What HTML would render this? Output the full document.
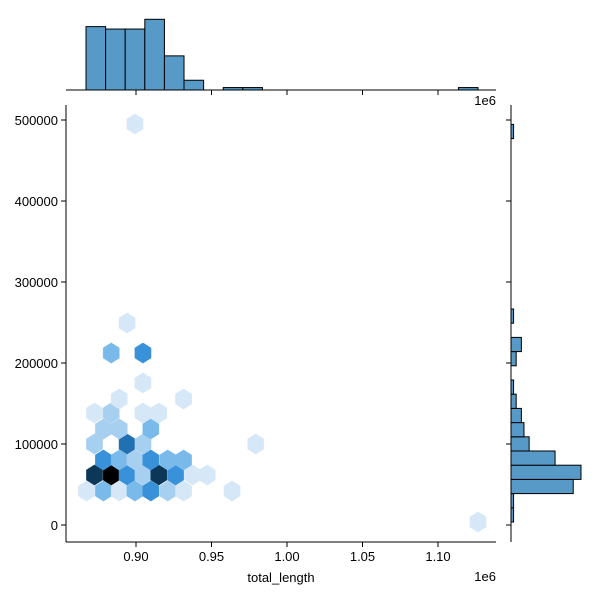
<!DOCTYPE html>
<html><head><meta charset="utf-8"><style>
html,body{margin:0;padding:0;background:#fff;}
svg{display:block;font-family:"Liberation Sans","DejaVu Sans",sans-serif;}
</style></head><body>
<svg id="chart" width="600" height="600" viewBox="0 0 600 600"></svg>
<script>
// ---- data ----
const hexX = [0.8672,0.8784,0.8889,0.8993,0.9098,0.9210,0.9315,0.9636,
  0.8725,0.8836,0.8941,0.9046,0.9151,0.9262,0.9374,0.9472,
  0.8784,0.8889,0.8993,0.9098,0.9210,0.9315,
  0.8725,0.8941,0.9046,0.9793,
  0.8784,0.8889,0.9098,
  0.8725,0.8836,0.9046,0.9151,
  0.8889,0.9315,
  0.9046,
  0.8836,0.9046,
  0.8941,
  0.8993,
  1.1265];
const hexY = [41975,41975,41975,41975,41975,41975,41975,41975,
  61728,61728,61728,61728,61728,61728,61728,61728,
  80247,80247,80247,80247,80247,80247,
  100000,100000,100000,100000,
  118519,118519,118519,
  138272,138272,138272,138272,
  155556,155556,
  175309,
  212346,212346,
  249383,
  495062,
  3704];
const hexCount = [1,3,1,3,4,2,1,1,
  7,9,4,2,7,4,1,1,
  4,3,2,4,3,3,
  2,5,2,1,
  2,2,3,
  1,2,1,1,
  1,1,
  1,
  3,4,
  1,
  1,
  1];
const topHistStart = 0.8669;
const topHistWidth = 0.01298;
const topHistCounts = [26,25,25,29,14,4,0,1,1,0,0,0,0,0,0,0,0,0,0,1];
const rightHistStart = 3704;
const rightHistWidth = 17531;
const rightHistCounts = [1,1,24,27,17,7,5,4,2,1,0,2,4,0,1,0,0,0,0,0,0,0,0,0,0,0,0,1];
const xTicks = [0.90,0.95,1.00,1.05,1.10];
const xTickLabels = ["0.90","0.95","1.00","1.05","1.10"];
const yTicks = [0,100000,200000,300000,400000,500000];
const yTickLabels = ["0","100000","200000","300000","400000","500000"];

// ---- axes ----
const L=66,R=496,T=105,B=542;
const sx = v => 136 + (v-0.9)*1510;
const sy = v => 525 - v*0.00081;
const topBase=90, topScale=70.7/29;
const rightBase=511, rightScale=70/27;
const NS="http://www.w3.org/2000/svg";
const svg=document.getElementById('chart');
function mk(tag,attrs,parent){const e=document.createElementNS(NS,tag);for(const k in attrs)e.setAttribute(k,attrs[k]);(parent||svg).appendChild(e);return e;}

const stops=[[0.11,[214,232,247]],[0.22,[168,208,240]],[0.33,[124,187,234]],[0.44,[58,146,220]],[0.56,[31,111,176]],[0.78,[12,54,86]],[1,[0,0,0]]];
function col(c){const t=c/9;if(t<=stops[0][0])return 'rgb('+stops[0][1]+')';
 for(let i=1;i<stops.length;i++){if(t<=stops[i][0]){const a=stops[i-1],b=stops[i];const f=(t-a[0])/(b[0]-a[0]);
 return 'rgb('+a[1].map((v,k)=>Math.round(v+(b[1][k]-v)*f)).join(',')+')';}}return '#000';}

// hexes
const gHex=mk('g',{});


const hw=8.15, hr=10.2;
for(let i=0;i<hexX.length;i++){
 const cx=sx(hexX[i]), cy=sy(hexY[i]);
 const pts=[[cx,cy-hr],[cx+hw,cy-hr/2],[cx+hw,cy+hr/2],[cx,cy+hr],[cx-hw,cy+hr/2],[cx-hw,cy-hr/2]].map(p=>p[0].toFixed(2)+','+p[1].toFixed(2)).join(' ');
 const p=mk('polygon',{points:pts,fill:col(hexCount[i]),stroke:col(hexCount[i]),'stroke-width':0.3},gHex);
 
 
}

// top histogram
const gTop=mk('g',{});


topHistCounts.forEach((c,i)=>{ if(!c)return;
 const x0=sx(topHistStart+i*topHistWidth), x1=sx(topHistStart+(i+1)*topHistWidth), h=c*topScale;
 const r=mk('rect',{x:x0,y:topBase-h,width:x1-x0,height:h,fill:'#5799c7',stroke:'#000','stroke-width':1},gTop);
 
 
});
const tb=mk('line',{x1:L,x2:R,y1:topBase,y2:topBase,stroke:'#000','stroke-width':1});



// right histogram
const gRight=mk('g',{});


rightHistCounts.forEach((c,i)=>{ if(!c)return;
 const y0=sy(rightHistStart+i*rightHistWidth), y1=sy(rightHistStart+(i+1)*rightHistWidth), w=c*rightScale;
 const r=mk('rect',{x:rightBase,y:y1,width:w,height:y0-y1,fill:'#5799c7',stroke:'#000','stroke-width':1},gRight);
 
 
});
const rb=mk('line',{x1:rightBase,x2:rightBase,y1:T,y2:B,stroke:'#000','stroke-width':1});



// main spines
const ls=mk('line',{x1:L,x2:L,y1:T,y2:B,stroke:'#000','stroke-width':1});


const bs=mk('line',{x1:L,x2:R,y1:B,y2:B,stroke:'#000','stroke-width':1});



// x ticks
xTicks.forEach((v,i)=>{const x=sx(v);
 const t=mk('line',{x1:x,x2:x,y1:B,y2:B+5,stroke:'#000'});
 
 
 const t2=mk('line',{x1:x,x2:x,y1:topBase,y2:topBase+5,stroke:'#000'});
 
 
 const l=mk('text',{x:x,y:B+19,'text-anchor':'middle','font-size':13,fill:'#000'});
 l.textContent=xTickLabels[i];
 
 
});
// y ticks
yTicks.forEach((v,i)=>{const y=sy(v);
 const t=mk('line',{x1:L-5,x2:L,y1:y,y2:y,stroke:'#000'});
 
 
 const t2=mk('line',{x1:rightBase-5,x2:rightBase,y1:y,y2:y,stroke:'#000'});
 
 
 const l=mk('text',{x:L-8,y:y+5,'text-anchor':'end','font-size':13,fill:'#000'});
 l.textContent=yTickLabels[i];
 
 
});
const o1=mk('text',{x:496,y:581,'text-anchor':'end','font-size':13});
o1.textContent='1e6';


const o2=mk('text',{x:496,y:105,'text-anchor':'end','font-size':13});
o2.textContent='1e6';


const xl=mk('text',{x:281,y:582,'text-anchor':'middle','font-size':13});
xl.textContent='total_length';


</script>
</body></html>
